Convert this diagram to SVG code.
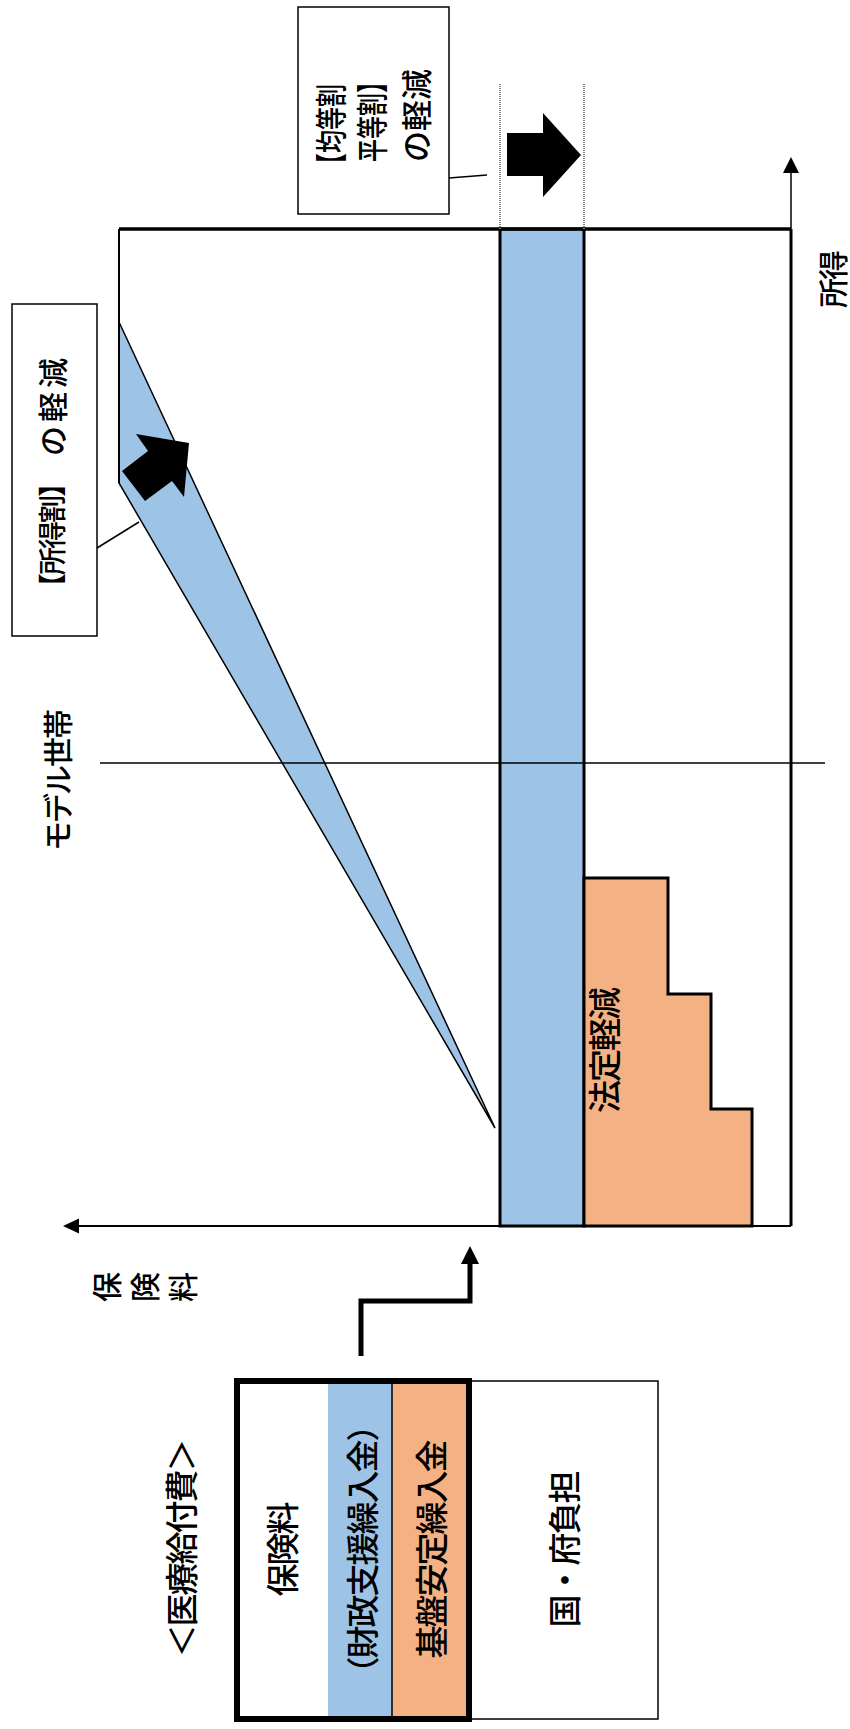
<svg xmlns="http://www.w3.org/2000/svg" width="850" height="1729" viewBox="0 0 850 1729">
<style>
  text { font-family: "Liberation Sans", "Noto Sans CJK JP", sans-serif; font-weight: 500; fill: #000; dominant-baseline: central; }
  .ln { fill: none; stroke: #000; }
  .blue { fill: #9DC3E6; }
  .orange { fill: #F4B183; }
  .box { fill: #fff; stroke: #000; stroke-width: 1.5; }
  .gray { stroke: #808080; stroke-width: 2; stroke-dasharray: 1 1; fill: none; }
  .big { font-size: 33px; letter-spacing: -2px; }
</style>
<rect width="850" height="1729" fill="#fff"/>

<g id="flat-band">
  <rect class="blue" x="500" y="229" width="84" height="997" stroke="#000" stroke-width="3"/>
</g>

<g id="income-wedge">
  <polygon class="blue" points="119,322 495,1128 119,483" stroke="#000" stroke-width="1.5"/>
  <polygon points="122,471 148,451 136,434 189,443 184,497 172,481 145,501" fill="#000"/>
</g>

<g id="statutory-reduction">
  <polygon class="orange" points="584,878 668,878 668,994 711,994 711,1109 752,1109 752,1226 584,1226" stroke="#000" stroke-width="3"/>
  <text class="big" transform="translate(605,1051) rotate(-90)" text-anchor="middle">法定軽減</text>
</g>

<g id="frame">
  <line class="ln" x1="119" y1="229" x2="791" y2="229" stroke-width="3.5"/>
  <line class="ln" x1="119" y1="229" x2="119" y2="483" stroke-width="2"/>
  <line class="ln" x1="791" y1="229" x2="791" y2="1226" stroke-width="3"/>
</g>

<g id="axis-income">
  <line class="ln" x1="791" y1="1226" x2="791" y2="170" stroke-width="1.5"/>
  <polygon points="791,157 783,173 799,173" fill="#000"/>
  <text transform="translate(833,280) rotate(-90)" text-anchor="middle" font-size="30" letter-spacing="-2">所得</text>
</g>

<g id="axis-premium">
  <line class="ln" x1="791" y1="1226" x2="76" y2="1226" stroke-width="2"/>
  <polygon points="63,1226 79,1218.5 79,1233.5" fill="#000"/>
  <text transform="translate(107,1287) rotate(-90)" text-anchor="middle" font-size="30">保</text>
  <text transform="translate(145,1287) rotate(-90)" text-anchor="middle" font-size="30">険</text>
  <text transform="translate(183,1287) rotate(-90)" text-anchor="middle" font-size="30">料</text>
</g>

<g id="model-household">
  <line class="ln" x1="100" y1="763" x2="825" y2="763" stroke-width="1.5"/>
  <text transform="translate(58,781) rotate(-90)" text-anchor="middle" font-size="30" letter-spacing="-2">モデル世帯</text>
</g>

<g id="flat-rate-arrow">
  <line class="gray" x1="500" y1="84" x2="500" y2="229"/>
  <line class="gray" x1="584" y1="84" x2="584" y2="229"/>
  <polygon points="507,133 543,133 543,113 581,155 543,197 543,176 507,176" fill="#000"/>
</g>

<g id="label-flat-rate">
  <rect class="box" x="298" y="7" width="151" height="207"/>
  <text transform="translate(332,176) rotate(-90) scale(0.72,1)" font-size="32">【均等割</text>
  <text transform="translate(373,162) rotate(-90) scale(0.72,1)" font-size="32">平等割】</text>
  <text transform="translate(417,162) rotate(-90)" font-size="31">の軽減</text>
</g>

<g id="label-income-rate">
  <rect class="box" x="12" y="304" width="85" height="332"/>
  <text transform="translate(53,601) rotate(-90)" font-size="28" letter-spacing="-2">【所得割】</text>
  <text transform="translate(53,456) rotate(-90)" font-size="30" letter-spacing="4">の軽減</text>
</g>

<g id="benefit-block">
  <text class="big" transform="translate(182,1549) rotate(-90)" text-anchor="middle">＜医療給付費＞</text>
  <rect class="box" x="469" y="1381" width="189" height="338"/>
  <rect x="237" y="1381" width="91" height="338" fill="#fff"/>
  <rect class="blue" x="328" y="1381" width="64" height="338"/>
  <rect class="orange" x="392" y="1381" width="77" height="338"/>
  <line class="ln" x1="392" y1="1381" x2="392" y2="1719" stroke-width="1.5"/>
  <rect x="237" y="1381" width="232" height="338" fill="none" stroke="#000" stroke-width="6"/>
  <text class="big" transform="translate(283,1550) rotate(-90)" text-anchor="middle">保険料</text>
  <text class="big" transform="translate(363,1550) rotate(-90)" text-anchor="middle">（財政支援繰入金）</text>
  <text class="big" transform="translate(432,1550) rotate(-90)" text-anchor="middle">基盤安定繰入金</text>
  <text class="big" transform="translate(565,1550) rotate(-90)" text-anchor="middle">国・府負担</text>
</g>

<g id="connectors">
  <line class="ln" x1="449" y1="178" x2="487" y2="175" stroke-width="1.5"/>
  <line class="ln" x1="97" y1="548" x2="139" y2="522" stroke-width="1.5"/>
  <path class="ln" d="M361,1356 V1301 H470 V1262" stroke-width="5"/>
  <polygon points="470,1246 461,1264 479,1264" fill="#000"/>
</g>
</svg>
